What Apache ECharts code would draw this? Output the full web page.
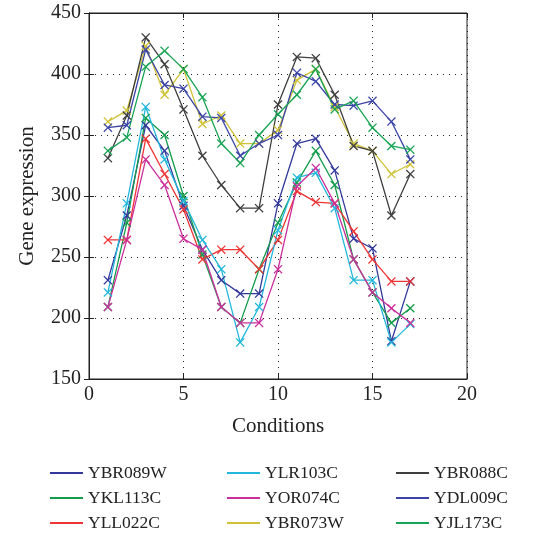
<!DOCTYPE html>
<html>
<head>
<meta charset="utf-8">
<script src="https://cdn.jsdelivr.net/npm/echarts@6/dist/echarts.min.js"></script>
<style>
  html, body { margin: 0; padding: 0; background: #fff; }
  #chart { width: 560px; height: 533px; }
</style>
</head>
<body>
<div id="chart"></div>
<script>
const conditions = [1, 2, 3, 4, 5, 6, 7, 8, 9, 10, 11, 12, 13, 14, 15, 16, 17]

const YBR089W = [231, 284, 358, 337, 292, 256, 231, 220, 220, 294, 343, 347, 321, 265, 257, 181, 230]
const YKL113C = [209, 278, 364, 350, 300, 252, 209, 196, 240, 278, 311, 337, 309, 248, 221, 196, 208]
const YLL022C = [264, 264, 347, 318, 289, 248, 256, 256, 240, 264, 304, 295, 294, 271, 248, 230, 230]
const YLR103C = [221, 294, 373, 330, 296, 264, 240, 180, 209, 272, 315, 319, 290, 231, 231, 180, 195]
const YOR074C = [209, 264, 330, 309, 265, 256, 209, 196, 196, 240, 308, 323, 294, 248, 221, 208, 196]
const YBR073W = [361, 370, 423, 383, 404, 359, 366, 343, 343, 354, 395, 404, 373, 343, 337, 318, 326]
const YBR088C = [331, 366, 430, 408, 371, 333, 309, 290, 290, 375, 414, 413, 383, 341, 337, 284, 318]
const YDL009C = [356, 358, 420, 391, 388, 365, 364, 333, 343, 350, 401, 394, 375, 374, 378, 361, 330]
const YJL173C = [337, 348, 406, 419, 404, 381, 343, 327, 350, 367, 383, 404, 371, 378, 356, 341, 338]

const names = ['YBR089W', 'YKL113C', 'YLL022C', 'YLR103C', 'YOR074C', 'YBR073W', 'YBR088C', 'YDL009C', 'YJL173C']
const values = [YBR089W, YKL113C, YLL022C, YLR103C, YOR074C, YBR073W, YBR088C, YDL009C, YJL173C]
const colors = ['#33399b', '#139c4c', '#ee3434', '#22b8dc', '#cc2f9c', '#cfc236', '#3e3e3e', '#3a44a6', '#18a454']

const xTicks = [0, 5, 10, 15, 20]
const yTicks = [150, 200, 250, 300, 350, 400, 450]

const font = '"Liberation Serif", "DejaVu Serif", serif'
const crossPath = 'path://M0,1L1,0L5,4L9,0L10,1L6,5L10,9L9,10L5,6L1,10L0,9L4,5Z'

const chart = echarts.init(document.getElementById('chart'))

const gridLine = { show: true, lineStyle: { color: '#222', type: [1, 5], width: 1 } }

const series = names.map((name, i) => ({
  name,
  type: 'line',
  data: conditions.map((c, j) => [c, values[i][j]]),
  symbol: crossPath,
  symbolSize: 9,
  showSymbol: true,
  lineStyle: { color: colors[i], width: 1.3 },
  itemStyle: { color: colors[i] },
  animation: false
}))

// one legend block per column, three names each
function legendCol(left, items) {
  return {
    orient: 'vertical',
    left,
    top: 464,
    padding: 0,
    data: items,
    icon: 'rect',
    itemWidth: 33,
    itemHeight: 2,
    itemGap: 7,
    textStyle: { fontFamily: font, fontSize: 17.5, lineHeight: 17, color: '#222' }
  }
}

const option = {
  backgroundColor: '#fff',
  animation: false,
  grid: { left: 89, top: 13, width: 378, height: 366, show: true, borderColor: '#222', borderWidth: 1 },
  legend: [
    legendCol(50, names.slice(0, 3)),
    legendCol(227, names.slice(3, 6)),
    legendCol(396, names.slice(6, 9))
  ],
  xAxis: [{
    type: 'value',
    min: xTicks[0],
    max: xTicks[xTicks.length - 1],
    interval: 5,
    name: 'Conditions',
    nameLocation: 'middle',
    nameGap: 37,
    nameTextStyle: { fontFamily: font, fontSize: 21, color: '#222' },
    axisLine: { show: true, lineStyle: { color: '#222' } },
    axisTick: { show: true, inside: true, length: 5, lineStyle: { color: '#222' } },
    axisLabel: { fontFamily: font, fontSize: 20, color: '#222', margin: 6 },
    splitLine: gridLine
  }, {
    type: 'value',
    position: 'top',
    min: xTicks[0],
    max: xTicks[xTicks.length - 1],
    interval: 5,
    axisLine: { show: true, lineStyle: { color: '#222' } },
    axisTick: { show: true, inside: true, length: 5, lineStyle: { color: '#222' } },
    axisLabel: { show: false },
    splitLine: { show: false }
  }],
  yAxis: [{
    type: 'value',
    min: yTicks[0],
    max: yTicks[yTicks.length - 1],
    interval: 50,
    name: 'Gene expression',
    nameLocation: 'middle',
    nameGap: 51,
    nameTextStyle: { fontFamily: font, fontSize: 21, color: '#222' },
    axisLine: { show: true, lineStyle: { color: '#222' } },
    axisTick: { show: true, inside: true, length: 5, lineStyle: { color: '#222' } },
    axisLabel: { fontFamily: font, fontSize: 20, color: '#222', margin: 8 },
    splitLine: gridLine
  }, {
    type: 'value',
    position: 'right',
    min: yTicks[0],
    max: yTicks[yTicks.length - 1],
    interval: 50,
    axisLine: { show: true, lineStyle: { color: '#222' } },
    axisTick: { show: true, inside: true, length: 5, lineStyle: { color: '#222' } },
    axisLabel: { show: false },
    splitLine: { show: false }
  }],
  series
}

chart.setOption(option)
</script>
</body>
</html>
